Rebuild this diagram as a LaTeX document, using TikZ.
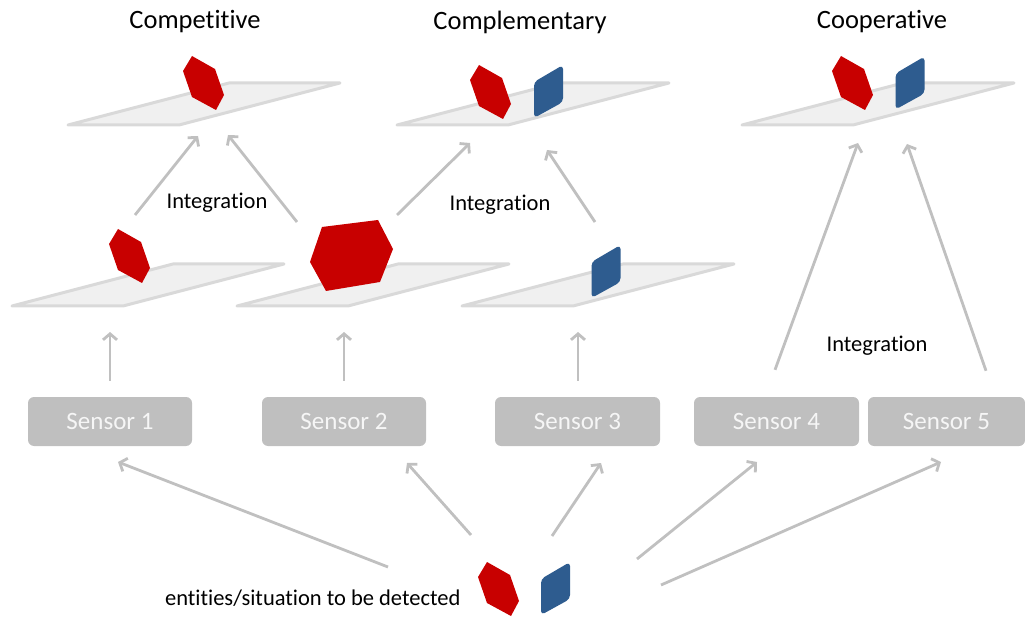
\documentclass[tikz,border=0pt]{standalone}
\usepackage{fontspec}
\setmainfont{Carlito}[Ligatures=NoCommon]
\usetikzlibrary{arrows.meta}
\definecolor{objred}{HTML}{C80000}
\definecolor{objblue}{HTML}{2E5C8F}
\definecolor{planefill}{HTML}{F0F0F0}
\definecolor{planeedge}{HTML}{D9D9D9}
\definecolor{linkgray}{HTML}{C0C0C0}
\definecolor{boxgray}{HTML}{BFBFBF}
\definecolor{boxtext}{HTML}{F6F6F6}
\tikzset{
  plane/.pic={\filldraw[fill=planefill,draw=planeedge,line width=3pt,line join=round]
     (0,0) -- (111,0) -- (272,-42) -- (161,-42) -- cycle;},
  hexa/.pic={\fill[objred] (-11,-27) -- (12,-14) -- (21,12) -- (13,27) -- (-11,14) -- (-20,-12) -- cycle;},
  tile/.pic={\fill[objblue,rounded corners=4pt] (-14.5,-10) -- (14.5,-27) -- (14.5,10) -- (-14.5,26) -- cycle;},
  sensor/.style={fill=boxgray,rounded corners=6pt,minimum height=49pt,
     text=boxtext,font=\fontsize{25}{30}\selectfont,inner sep=0pt},
  title/.style={font=\fontsize{26.5}{31}\selectfont,text=black},
  label/.style={font=\fontsize{22.5}{27}\selectfont,text=black},
  conn/.style={draw=linkgray,line width=2.8pt,-{Straight Barb[length=6pt,width=14pt]}}
}
\begin{document}
\begin{tikzpicture}[x=1pt,y=-1pt]
\useasboundingbox (0,0) rectangle (1025,617);

% column titles
\node[title] (tcomp) at (195,22) {Competitive};
\node[title] (tcompl) at (520,22) {Complementary};
\node[title] (tcoop) at (882,22) {Cooperative};

% fused result planes
\pic at (68,125) {plane};
\pic at (397,125) {plane};
\pic at (742,125) {plane};
\pic at (203,83) {hexa};
\pic at (490,92) {hexa};
\pic at (548.5,92) {tile};
\pic at (852,83) {hexa};
\pic at (910,83.5) {tile};

% per-sensor observation planes
\pic at (12,306) {plane};
\pic at (237,306) {plane};
\pic at (462,306) {plane};
\pic at (129,256) {hexa};
\fill[objred] (322,227) -- (378,220) -- (393,249) -- (380,282) -- (326,291) -- (310,262) -- cycle;
\pic at (606,272) {tile};

% sensors
\node[sensor,minimum width=164pt] (s1) at (110,421.5) {Sensor 1};
\node[sensor,minimum width=164pt] (s2) at (344,421.5) {Sensor 2};
\node[sensor,minimum width=165pt] (s3) at (577.5,421.5) {Sensor 3};
\node[sensor,minimum width=165pt] (s4) at (776.5,421.5) {Sensor 4};
\node[sensor,minimum width=157pt] (s5) at (946.5,421.5) {Sensor 5};

% integration labels
\node[label] (i1) at (217,203) {Integration};
\node[label] (i2) at (500,205) {Integration};
\node[label] (i3) at (877,346) {Integration};

% objects in the scene
\node[label,anchor=east] (ent) at (464,598) {entities/situation to be detected};
\pic at (498,589) {hexa};
\pic at (555.5,589) {tile};

% connector end points
\coordinate (o1) at (110,332);
\coordinate (o2) at (344,332);
\coordinate (o3) at (578,332);
\coordinate (l1a) at (135,215);
\coordinate (l1b) at (297,222);
\coordinate (l2a) at (397,215);
\coordinate (l2b) at (595,222);
\coordinate (r1a) at (198,136);
\coordinate (r1b) at (228,135);
\coordinate (r2a) at (470,143);
\coordinate (r2b) at (547,150);
\coordinate (r3a) at (858,143);
\coordinate (r3b) at (907,144);
\coordinate (e1) at (388,567);
\coordinate (e2) at (471,535);
\coordinate (e3) at (552,536);
\coordinate (e4) at (637,559);
\coordinate (e5) at (661,585);
\coordinate (b1) at (118,462);
\coordinate (b2) at (407,463);
\coordinate (b3) at (601,463);
\coordinate (b4) at (757,462);
\coordinate (b5) at (941,462);

% sensors to their observations
\draw[conn] ([yshift=16pt]s1.north) -- (o1);
\draw[conn] ([yshift=16pt]s2.north) -- (o2);
\draw[conn] ([yshift=16pt]s3.north -| o3) -- (o3);

% integration steps
\draw[conn] (l1a) -- (r1a);
\draw[conn] (l1b) -- (r1b);
\draw[conn] (l2a) -- (r2a);
\draw[conn] (l2b) -- (r2b);
\draw[conn] ([shift={(-1.5,-27)}]s4.north) -- (r3a);
\draw[conn] ([shift={(39.5,-26)}]s5.north) -- (r3b);

% scene to sensors
\draw[conn] (e1) -- (b1);
\draw[conn] (e2) -- (b2);
\draw[conn] (e3) -- (b3);
\draw[conn] (e4) -- (b4);
\draw[conn] (e5) -- (b5);
\end{tikzpicture}
\end{document}
